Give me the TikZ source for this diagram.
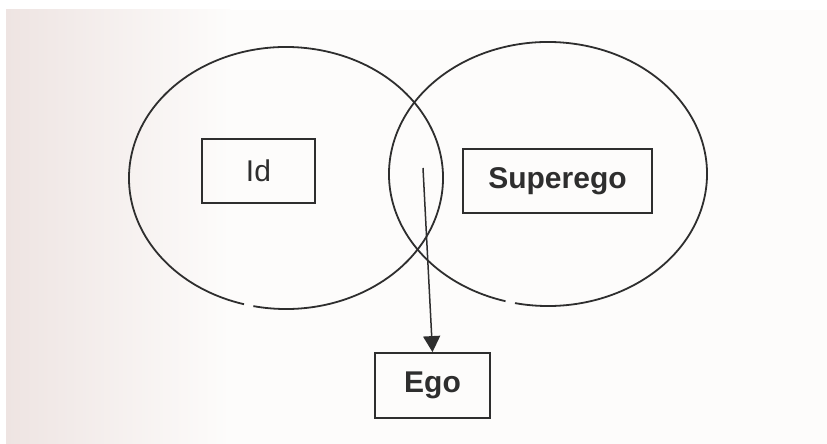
\documentclass[tikz,border=0pt]{standalone}
\usepackage{fontspec}
\setmainfont{Liberation Sans}
\usetikzlibrary{arrows.meta}
\definecolor{paperL}{HTML}{EEE4E2}
\definecolor{paperR}{HTML}{FDFCFB}
\definecolor{ink}{HTML}{2E2E2E}
\tikzset{
  ring/.style={draw=ink, line width=1.8pt},
  label box/.style={draw=ink, line width=1.8pt, minimum height=64pt, inner sep=0pt,
                    text=ink, font=\fontsize{30}{32}\selectfont},
  flow/.style={draw=ink, line width=1.5pt, -{Triangle[width=17pt,length=16pt]}}
}
\begin{document}
\begin{tikzpicture}[x=1pt, y=1pt]
  % page and paper tone
  \useasboundingbox (0,0) rectangle (827,444);
  \fill[white] (0,0) rectangle (827,444);
  \fill[paperR] (6,0) rectangle (827,434);
  \shade[left color=paperL, right color=paperR] (6,0) rectangle (230,434);

  % two overlapping regions
  \coordinate (L) at (286,266);
  \coordinate (R) at (548,270);
  \draw[ring] ([shift={(258:157 and 131)}]L) arc[start angle=258, end angle=614.5, x radius=157, y radius=131];
  \draw[ring] ([shift={(258:159 and 132)}]R) arc[start angle=258, end angle=614.5, x radius=159, y radius=132];

  % labels
  \node[label box, minimum width=113pt] (id) at (258.5,273) {Id};
  \node[label box, minimum width=189pt, font=\fontsize{30}{32}\selectfont\bfseries] (superego) at (557.5,263) {Superego};
  \node[label box, minimum width=115pt, minimum height=65pt, font=\fontsize{30}{32}\selectfont\bfseries] (ego) at (432.5,58.5) {Ego};

  % arrow from the overlap down to Ego
  \coordinate (overlap) at (423,276);
  \draw[flow] (overlap) -- (ego.north);
\end{tikzpicture}
\end{document}
